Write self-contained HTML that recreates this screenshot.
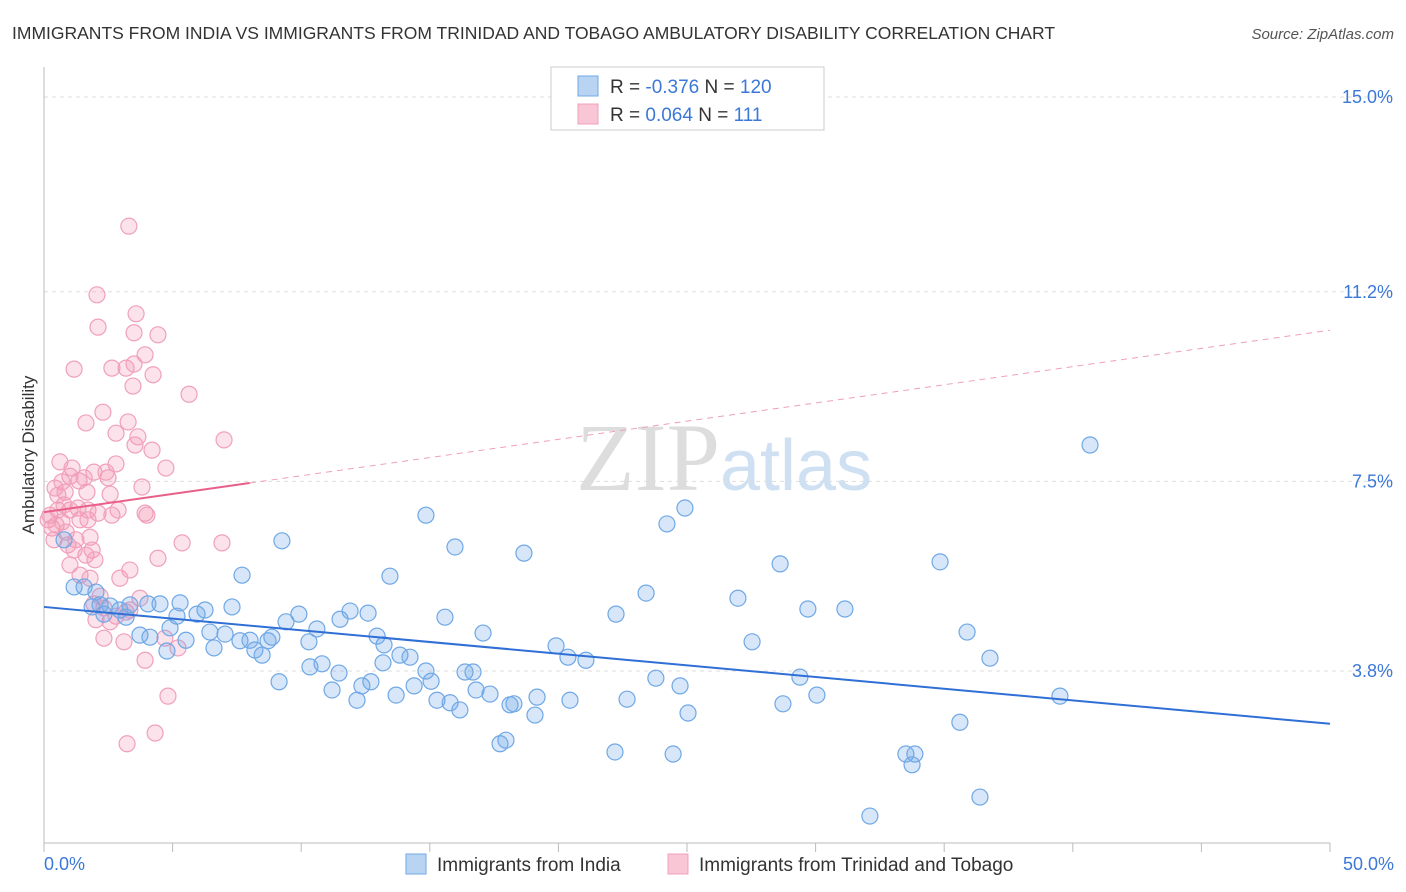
<!DOCTYPE html>
<html><head><meta charset="utf-8"><style>
body{margin:0;background:#fff;font-family:"Liberation Sans",sans-serif;}
svg{display:block}
</style></head><body>
<svg id="chart" width="1406" height="892">
<text x="12" y="39" font-size="17.5" fill="#333">IMMIGRANTS FROM INDIA VS IMMIGRANTS FROM TRINIDAD AND TOBAGO AMBULATORY DISABILITY CORRELATION CHART</text>
<text x="1394" y="39" font-size="15" fill="#555" font-style="italic" text-anchor="end">Source: ZipAtlas.com</text>
<text x="720" y="490" font-size="96" fill="#ddd" font-family="Liberation Serif,serif" text-anchor="end">ZIP</text>
<text x="720" y="490" font-size="72" fill="#cfe0f3">atlas</text>
<g id="grid"></g>
<g id="axes"></g>
<g id="marks"></g>
<text transform="translate(34,455) rotate(-90)" font-size="17" fill="#333" text-anchor="middle">Ambulatory Disability</text>
<text x="44" y="870" font-size="18" fill="#3b78d8">0.0%</text>
<text x="1394" y="870" font-size="18" fill="#3b78d8" text-anchor="end">50.0%</text>
<g>
<rect x="551" y="67" width="273" height="63" fill="#fff" stroke="#ccc"/>
<rect x="578" y="76" width="20" height="20" fill="#b9d3f3" stroke="#6fa8e6"/>
<rect x="578" y="104" width="20" height="20" fill="#f9c6d6" stroke="#f0a0bc"/>
<text x="610" y="93" font-size="19" fill="#333">R = <tspan fill="#3b78d8">-0.376</tspan>   N = <tspan fill="#3b78d8">120</tspan></text>
<text x="610" y="121" font-size="19" fill="#333">R =  <tspan fill="#3b78d8">0.064</tspan>   N =  <tspan fill="#3b78d8"> 111</tspan></text>
</g>
<g>
<rect x="406" y="854" width="20" height="20" fill="#b9d3f3" stroke="#6fa8e6"/>
<text x="437" y="871" font-size="19" fill="#333">Immigrants from India</text>
<rect x="668" y="854" width="20" height="20" fill="#f9c6d6" stroke="#f0a0bc"/>
<text x="699" y="871" font-size="19" fill="#333">Immigrants from Trinidad and Tobago</text>
</g>
</svg>
<script>
const yTicks=[15.0,11.2,7.5,3.8];
const yTickLabels=["15.0%","11.2%","7.5%","3.8%"];
const xTicks=[0,5,10,15,20,25,30,35,40,45,50];
const indiaX=[40.67,24.92,24.22,14.85,15.98,18.66,9.25,7.70,13.45,34.84,28.62,23.41,22.24,26.98,29.70,31.14,35.89,36.78,27.53,17.07,15.59,12.60,11.90,11.51,9.91,9.41,10.61,8.86,7.31,6.26,5.95,5.29,5.17,4.51,4.04,3.34,2.95,2.57,2.33,3.19,2.02,1.56,1.17,1.87,0.78,2.18,3.73,4.12,4.78,4.90,5.52,6.45,6.61,7.04,7.62,8.01,8.20,8.48,8.71,9.14,10.30,10.81,10.34,11.20,11.47,12.17,12.36,12.71,13.18,13.69,13.84,14.23,14.39,14.85,15.05,15.28,15.79,16.17,16.37,16.68,16.80,17.34,18.12,18.27,19.09,19.17,17.73,17.96,19.91,20.37,21.07,20.45,22.67,23.79,24.73,25.04,22.20,24.46,28.73,29.39,30.05,33.51,33.86,33.75,35.61,39.50,36.39,32.11,13.22,12.95];
const indiaY=[8.21,6.98,6.67,6.84,6.22,6.10,6.34,5.67,5.65,5.93,5.89,5.32,4.91,5.22,5.01,5.01,4.56,4.05,4.37,4.54,4.85,4.93,4.97,4.81,4.91,4.76,4.62,4.46,5.05,4.99,4.91,5.13,4.87,5.11,5.11,5.09,4.99,5.07,4.91,4.85,5.34,5.44,5.44,5.05,6.36,5.09,4.50,4.46,4.19,4.64,4.40,4.56,4.25,4.52,4.39,4.40,4.21,4.11,4.39,3.59,4.37,3.94,3.88,3.43,3.76,3.23,3.51,3.59,3.96,3.33,4.11,4.07,3.51,3.80,3.60,3.23,3.18,3.04,3.78,3.78,3.43,3.35,3.14,3.16,2.94,3.29,2.38,2.45,4.29,4.07,4.01,3.23,3.25,3.66,3.51,2.98,2.22,2.18,3.16,3.68,3.33,2.18,2.18,1.97,2.80,3.31,1.34,0.97,4.31,4.48];
const ttX=[3.30,2.06,2.10,3.58,3.50,4.43,3.93,1.17,2.64,3.19,3.50,4.24,3.46,5.64,2.29,3.27,1.63,2.80,3.65,3.54,4.20,7.00,0.62,1.09,1.01,0.43,0.70,0.82,1.36,1.56,1.67,1.94,2.49,2.80,2.41,4.74,3.81,2.57,2.64,2.88,3.93,4.00,2.10,1.71,1.32,1.01,0.54,0.23,0.16,0.31,0.47,0.70,0.86,0.39,0.93,1.24,1.71,1.79,1.87,1.63,1.98,1.01,1.17,1.40,1.79,2.95,3.34,4.43,5.37,6.92,2.18,2.33,2.02,2.80,2.57,1.94,3.19,3.73,3.34,2.33,3.11,4.70,5.21,3.93,4.82,3.23,4.32,1.40,0.78,0.54];
const ttY=[12.48,11.14,10.51,10.77,10.40,10.36,9.97,9.69,9.71,9.71,9.79,9.58,9.36,9.20,8.85,8.66,8.64,8.44,8.37,8.21,8.11,8.31,7.88,7.76,7.60,7.37,7.49,7.29,7.51,7.57,7.29,7.68,7.57,7.84,7.68,7.76,7.39,7.25,6.84,6.94,6.88,6.84,6.88,6.94,6.98,6.94,6.94,6.84,6.75,6.59,6.65,6.71,6.51,6.36,6.26,6.36,6.75,6.41,6.16,6.06,5.97,5.87,6.16,5.67,5.61,5.61,5.77,6.00,6.30,6.30,5.26,5.03,4.80,4.87,4.76,5.11,4.95,5.22,4.99,4.44,4.37,4.44,4.25,4.01,3.31,2.38,2.59,6.75,7.04,7.23];
const indiaTrend=[5.05,2.77];   // y at x=0, y at x=50
const ttTrend=[6.90,10.45];
const ttSolidEnd=8.0;

const NS="http://www.w3.org/2000/svg";
const X0=44,X1=1330,Y0=843;
function xs(v){return X0+(v/50)*(X1-X0);}
function ys(v){return 97+(15-v)*51.25;}
function mk(tag,attrs,parent){const e=document.createElementNS(NS,tag);for(const k in attrs)e.setAttribute(k,attrs[k]);parent.appendChild(e);return e;}
const grid=document.getElementById('grid'),axes=document.getElementById('axes'),marks=document.getElementById('marks');
yTicks.forEach((t,i)=>{
  const l=mk('line',{x1:X0,x2:1394,y1:ys(t),y2:ys(t),stroke:'#ddd','stroke-dasharray':'4,4'},grid);
  
  
  const tx=mk('text',{x:1393,y:ys(t)+6,'font-size':18,fill:'#3b78d8','text-anchor':'end'},grid);
  tx.textContent=yTickLabels[i];
  
  
});
const ya=mk('line',{x1:X0,x2:X0,y1:67,y2:Y0,stroke:'#bbb'},axes);


const xa=mk('line',{x1:X0,x2:X1,y1:Y0,y2:Y0,stroke:'#bbb'},axes);


xTicks.forEach(t=>{
  const l=mk('line',{x1:xs(t),x2:xs(t),y1:Y0,y2:Y0+9,stroke:'#bbb'},axes);
  
  
});
function dots(X,Y,fill,stroke,name){
  X.forEach((x,i)=>{
    const c=mk('circle',{cx:xs(x),cy:ys(Y[i]),r:8,fill:fill,stroke:stroke,'stroke-width':1.2},marks);
    
    
  });
}
dots(ttX,ttY,'rgba(244,150,180,0.28)','#f0a0bc','tt-point');
dots(indiaX,indiaY,'rgba(110,165,230,0.28)','#6fa8e6','india-point');
function ty(tr,x){return tr[0]+(tr[1]-tr[0])*x/50;}
const bl=mk('line',{x1:xs(0),y1:ys(ty(indiaTrend,0)),x2:xs(50),y2:ys(ty(indiaTrend,50)),stroke:'#2f6fd6','stroke-width':2},marks);


const ps=mk('line',{x1:xs(0),y1:ys(ty(ttTrend,0)),x2:xs(ttSolidEnd),y2:ys(ty(ttTrend,ttSolidEnd)),stroke:'#e8608a','stroke-width':2},marks);


const pd=mk('line',{x1:xs(ttSolidEnd),y1:ys(ty(ttTrend,ttSolidEnd)),x2:xs(50),y2:ys(ty(ttTrend,50)),stroke:'#eea0b8','stroke-width':1,'stroke-dasharray':'6,5'},marks);


</script>
</body></html>
